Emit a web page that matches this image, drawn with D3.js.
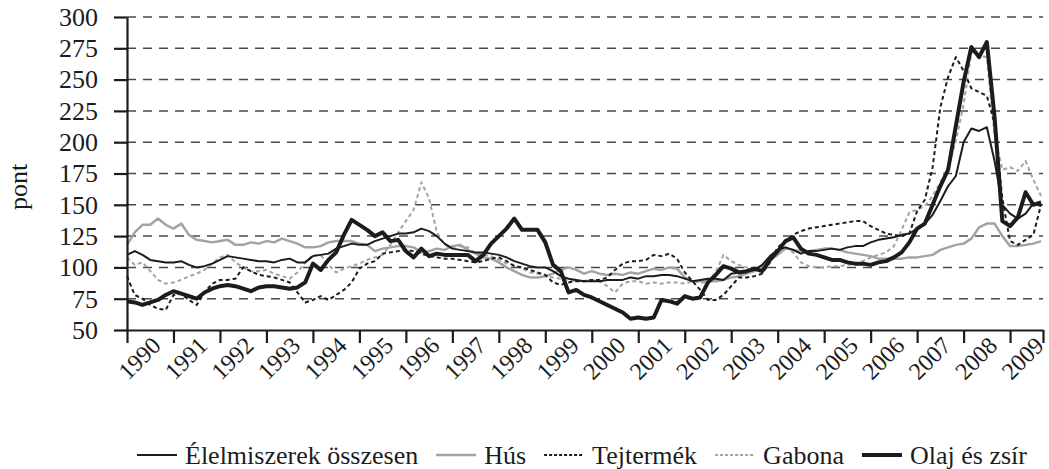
<!DOCTYPE html>
<html>
<head>
<meta charset="utf-8">
<script src="https://cdn.jsdelivr.net/npm/d3@7"></script>
<style>
  body { margin: 0; background: #fff; }
  svg text { font-family: "Liberation Serif", "DejaVu Serif", serif; }
</style>
</head>
<body>
<script>
// one reading every 2 months, Jan 1990 .. Sep 2009
var monthStep = 2;
var years = [1990, 1991, 1992, 1993, 1994, 1995, 1996, 1997, 1998, 1999,
             2000, 2001, 2002, 2003, 2004, 2005, 2006, 2007, 2008, 2009];
var yTicks = [50, 75, 100, 125, 150, 175, 200, 225, 250, 275, 300];

// Élelmiszerek összesen
var food = [
  110, 113, 110, 106, 105, 104, 104, 105, 102, 100, 101, 103,
  106, 109, 108, 107, 106, 105, 105, 104, 106, 107, 104, 104,
  109, 110, 111, 115, 117, 119, 118, 118, 121, 123, 125, 127,
  127, 128, 131, 129, 125, 119, 115, 114, 113, 112, 112, 111,
  110, 108, 105, 103, 101, 100, 100, 97, 93, 91, 90, 89,
  89, 89, 90, 90, 90, 92, 91, 93, 93, 94, 94, 93,
  91, 89, 90, 91, 91, 90, 95, 96, 97, 98, 102, 109,
  114, 116, 114, 111, 113, 113, 114, 115, 114, 116, 117, 117,
  120, 122, 123, 124, 126, 127, 131, 135, 142, 153, 165, 173,
  200, 211, 209, 212, 185, 150, 143, 139, 143, 151, 149
];
// Hús
var meat = [
  118, 128, 134, 134, 139, 134, 131, 135, 126, 122, 121, 120,
  121, 122, 118, 118, 120, 119, 121, 120, 123, 121, 119, 116,
  116, 117, 120, 121, 121, 121, 119, 118, 113, 115, 116, 117,
  117, 116, 112, 113, 115, 114, 117, 118, 114, 111, 108, 107,
  104, 100, 97, 94, 92, 92, 93, 95, 98, 100, 98, 95,
  97, 95, 94, 95, 94, 96, 95, 97, 99, 98, 100, 99,
  92, 89, 89, 89, 89, 90, 92, 93, 95, 97, 101, 106,
  110, 115, 114, 113, 113, 114, 115, 115, 114, 112, 111, 110,
  109, 107, 107, 107, 107, 108, 108, 109, 110, 114, 116, 118,
  119, 123, 132, 135, 135, 125, 117, 117, 118, 119, 121
];
// Tejtermék
var dairy = [
  93, 78, 75, 70, 67, 66, 78, 79, 74, 70, 80, 87,
  90, 90, 91, 100, 97, 94, 93, 92, 90, 88, 80, 72,
  74, 77, 74, 78, 82, 88, 99, 103, 105, 111, 112, 113,
  114, 113, 111, 109, 108, 107, 107, 106, 105, 104, 105, 107,
  108, 105, 101, 100, 98, 96, 94, 88, 86, 88, 89, 89,
  90, 90, 92, 98, 103, 105, 105, 106, 110, 109, 111, 107,
  96, 89, 82, 74, 74, 78, 85, 92, 92, 93, 95, 104,
  116, 121, 126, 129, 131, 132, 133, 134, 135, 136, 137, 137,
  133, 130, 127, 126, 125, 127, 145, 154, 180, 228, 252, 268,
  257, 243, 240, 237, 215, 155, 121, 118, 122, 126, 150
];
// Gabona
var cereals = [
  108, 102, 104, 97, 90, 87, 88, 90, 93, 95, 98, 103,
  108, 110, 104, 100, 97, 97, 98, 95, 93, 91, 96, 104,
  110, 110, 102, 96, 99, 101, 103, 106, 108, 110, 118, 128,
  137, 146, 168, 155, 128, 118, 116, 117, 116, 111, 110, 109,
  106, 103, 102, 99, 96, 95, 93, 92, 91, 90, 89, 89,
  90, 89, 85, 80, 87, 89, 89, 87, 88, 87, 88, 88,
  87, 89, 88, 88, 96, 110, 105, 102, 100, 98, 101, 107,
  112, 116, 112, 104, 101, 100, 100, 101, 101, 102, 103, 105,
  108, 110, 112, 117, 130, 144, 146, 149, 157, 168, 180, 201,
  230, 272, 269, 268, 205, 178, 180, 177, 185, 170, 157
];
// Olaj és zsír
var oils = [
  73, 72, 70, 72, 74, 78, 81, 79, 77, 75, 80, 83,
  85, 86, 85, 83, 81, 84, 85, 85, 84, 83, 84, 88,
  103, 98, 106, 112, 126, 138, 134, 130, 125, 128, 121, 122,
  113, 108, 115, 109, 111, 110, 110, 110, 110, 105, 110, 119,
  125, 131, 139, 130, 130, 130, 120, 102, 97, 80, 82, 78,
  76, 73, 70, 67, 64, 59, 60, 59, 60, 74, 73, 71,
  77, 75, 76, 88, 94, 101, 99, 96, 97, 99, 97, 106,
  113, 121, 124, 115, 111, 110, 108, 106, 106, 104, 103, 103,
  102, 104, 105, 108, 112, 120, 131, 135, 150, 165, 178, 213,
  248, 276, 268, 280, 220, 137, 133, 140, 160, 150, 152
];

var series = [
  {name: "Hús", values: meat, color: "#a3a3a3", width: 2.5, dash: null},
  {name: "Gabona", values: cereals, color: "#a3a3a3", width: 2, dash: "4,3"},
  {name: "Tejtermék", values: dairy, color: "#1c1c1c", width: 2, dash: "4,3"},
  {name: "Élelmiszerek összesen", values: food, color: "#1c1c1c", width: 2, dash: null},
  {name: "Olaj és zsír", values: oils, color: "#1c1c1c", width: 4, dash: null}
];
var legendOrder = ["Élelmiszerek összesen", "Hús", "Tejtermék", "Gabona", "Olaj és zsír"];

var serif = "Liberation Serif, DejaVu Serif, serif";
var width = 1049, height = 469;
var svg = d3.select("body").append("svg")
    .attr("width", width)
    .attr("height", height)
    .style("display", "block");

var x = d3.scaleLinear().domain([0, 236.5]).range([127, 1043]);
var y = d3.scaleLinear().domain([50, 300]).range([330, 17]);

// dashed gridlines
svg.append("g")
  .selectAll("line")
  .data(yTicks.filter(function(d) { return d > 50; }))
  .enter().append("line")
    .attr("x1", x(0)).attr("x2", x(236.5))
    .attr("y1", function(d) { return y(d); })
    .attr("y2", function(d) { return y(d); })
    .attr("stroke", "#4a4a4a")
    .attr("stroke-width", 1.5)
    .attr("stroke-dasharray", "9,7");

// series
var line = d3.line()
    .x(function(d, i) { return x(i * monthStep); })
    .y(function(d) { return y(d); });

svg.append("g")
  .selectAll("path")
  .data(series)
  .enter().append("path")
    .attr("d", function(d) { return line(d.values); })
    .attr("fill", "none")
    .attr("stroke", function(d) { return d.color; })
    .attr("stroke-width", function(d) { return d.width; })
    .attr("stroke-dasharray", function(d) { return d.dash; })
    .attr("stroke-linejoin", "round");

// y axis
var yAxis = svg.append("g")
    .attr("transform", "translate(" + x(0) + ",0)")
    .call(d3.axisLeft(y).tickValues(yTicks).tickSize(13).tickSizeOuter(0).tickPadding(16));

// x axis, ticks at year boundaries
var xTickVals = years.map(function(yr, i) { return i * 12; }).concat([236.5]);
var xAxis = svg.append("g")
    .attr("transform", "translate(0," + y(50) + ")")
    .call(d3.axisBottom(x).tickValues(xTickVals).tickSize(13).tickSizeOuter(0).tickFormat(""));

[yAxis, xAxis].forEach(function(a) {
  a.attr("font-family", serif);
  a.select(".domain").attr("stroke", "#1c1c1c").attr("stroke-width", 2.2);
  a.selectAll(".tick line").attr("stroke", "#1c1c1c").attr("stroke-width", 2.2);
});
yAxis.selectAll(".tick text")
    .attr("font-size", 26)
    .attr("fill", "#1c1c1c")
    .attr("font-family", serif);

// rotated year labels
svg.append("g")
  .selectAll("text")
  .data(years)
  .enter().append("text")
    .attr("transform", function(d, i) {
      return "translate(" + (x(i * 12 + 6) + 12) + ",347) rotate(-45)";
    })
    .attr("text-anchor", "end")
    .attr("font-family", serif)
    .attr("font-size", 24)
    .attr("fill", "#1c1c1c")
    .text(function(d) { return d; });

// y title
svg.append("text")
    .attr("transform", "translate(27,187) rotate(-90)")
    .attr("text-anchor", "middle")
    .attr("font-family", serif)
    .attr("font-size", 26)
    .attr("fill", "#1c1c1c")
    .text("pont");

// legend
var legend = svg.append("g");
var lx = 137;
legendOrder.forEach(function(name) {
  var s = series.filter(function(d) { return d.name === name; })[0];
  legend.append("line")
      .attr("x1", lx).attr("x2", lx + 40)
      .attr("y1", 455).attr("y2", 455)
      .attr("stroke", s.color)
      .attr("stroke-width", s.width)
      .attr("stroke-dasharray", s.dash ? "3,2" : null);
  var t = legend.append("text")
      .attr("x", lx + 48)
      .attr("y", 464)
      .attr("font-family", serif)
      .attr("font-size", 26)
      .attr("fill", "#1c1c1c")
      .text(name);
  lx += 48 + t.node().getComputedTextLength() + 18;
});
</script>
</body>
</html>
